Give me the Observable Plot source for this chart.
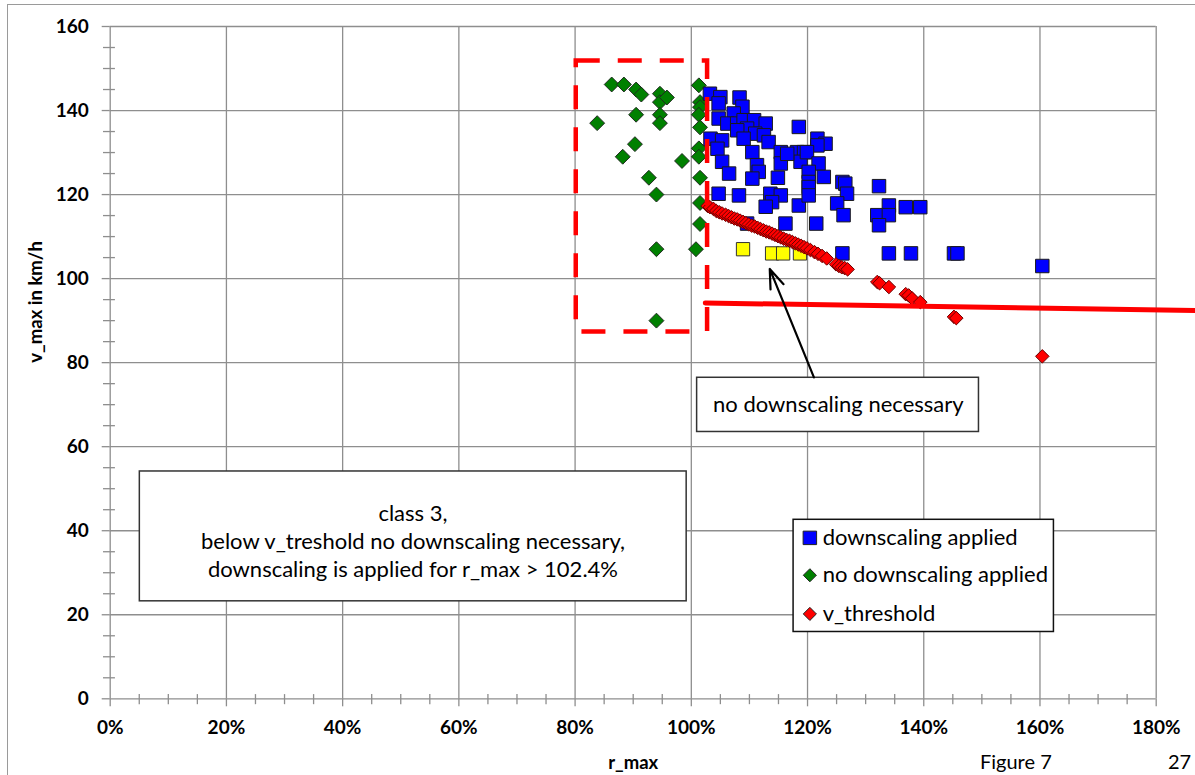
<!DOCTYPE html>
<html><head><meta charset="utf-8">
<script src="https://cdn.jsdelivr.net/npm/d3@7"></script>
<script src="https://cdn.jsdelivr.net/npm/@observablehq/plot@0.6"></script>
<style>
html,body{margin:0;padding:0;background:#fff;overflow:hidden;}
#wrap{position:relative;width:1195px;height:775px;font-family:Lato,"Open Sans",sans-serif;overflow:hidden;}
#border{position:absolute;left:7px;top:4px;width:1250px;height:850px;border-left:1.5px solid #9a9a9a;border-top:1.5px solid #9a9a9a;}
#chart{position:absolute;left:0;top:0;}
.foot{position:absolute;font-family:Lato,sans-serif;font-size:20px;color:#000;line-height:1;white-space:nowrap;}
</style></head>
<body>
<div id="wrap"><div id="border"></div><div id="chart"></div>
<div class="foot" style="left:980px;top:751px;">Figure 7</div>
<div class="foot" style="left:1168px;top:751px;">27</div>
</div>
<script>
// ---- data (r_max in %, v_max in km/h) ----
const downscalingApplied = [
 [103.2,144.0],[105.0,143.2],[104.7,141.7],[108.3,143.1],[108.8,140.9],[107.3,139.3],[104.7,138.1],
 [106.2,136.9],[107.9,136.9],[109.0,137.7],[110.8,137.7],[112.8,136.9],[109.6,135.7],[107.9,135.3],
 [111.0,134.5],[112.5,134.1],[118.5,136.1],[103.3,133.3],[105.3,132.9],[104.5,130.9],[109.0,133.3],
 [113.3,132.5],[110.5,130.1],[115.4,130.1],[118.2,130.1],[119.4,130.1],[105.3,127.8],[111.3,127.0],
 [115.4,127.4],[118.8,127.8],[106.5,125.0],[111.6,125.4],[110.5,123.8],[114.9,124.0],[104.7,120.2],
 [108.2,119.8],[113.6,120.2],[115.4,119.8],[113.9,118.2],[118.5,117.4],[112.8,117.1],[109.6,113.1],
 [121.7,133.3],[123.1,132.1],[121.7,131.7],[116.5,129.7],[119.9,130.1],[121.9,127.4],[120.2,125.4],
 [122.8,124.2],[120.2,123.0],[126.0,123.0],[126.5,122.6],[126.8,120.2],[125.1,117.9],[126.2,115.1],
 [120.2,121.8],[120.2,119.8],[116.2,113.1],[121.5,113.1],[132.3,122.0],[134.0,117.4],[132.0,115.1],
 [134.0,115.1],[132.3,112.7],[136.9,117.0],[139.4,117.0],[126.0,106.0],[134.0,106.0],[137.8,106.0],
 [145.2,106.0],[145.8,106.0],[160.4,103.0]
];
const noDownscalingApplied = [
 [86.3,146.2],[88.4,146.2],[90.5,145.0],[91.4,143.8],[94.6,144.0],[94.6,142.0],[95.8,143.1],
 [90.5,139.0],[94.6,139.0],[94.6,137.0],[83.8,137.0],[90.3,132.0],[88.2,129.0],[98.4,128.0],
 [92.7,124.0],[94.0,120.0],[94.0,107.0],[94.0,90.0],[101.3,146.0],[101.5,142.0],[101.5,140.8],
 [101.3,139.0],[101.5,136.0],[101.3,131.0],[101.3,129.0],[101.5,124.0],[101.5,118.0],[101.5,113.0],
 [100.8,107.0]
];
const noDownscalingNecessary = [[108.9,107.0],[113.9,106.0],[115.8,106.0],[118.7,106.0]];
const vThreshold = [
 [102.8,117.3],[103.2,117.0],[103.8,116.6],[104.3,116.1],[104.8,115.8],[105.3,115.5],[105.9,115.2],
 [106.4,114.9],[106.9,114.6],[107.4,114.3],[107.9,114.1],[108.4,113.8],[108.9,113.5],[109.4,113.2],
 [109.9,112.9],[110.4,112.6],[110.9,112.4],[111.4,112.1],[111.9,111.8],[112.4,111.5],[112.9,111.2],
 [113.4,111.0],[113.9,110.7],[114.4,110.4],[114.9,110.1],[115.4,109.8],[115.9,109.5],[116.4,109.2],
 [116.9,109.0],[117.4,108.7],[117.9,108.4],[118.4,108.1],[118.9,107.8],[119.4,107.5],[119.9,107.2],
 [120.5,106.8],[121.2,106.3],[121.8,105.9],[122.5,105.4],[123.3,104.8],[124.9,103.4],[125.4,103.0],
 [125.9,102.7],[126.4,102.5],[126.9,102.2],[132.0,99.2],[132.4,98.9],[134.0,98.0],[136.9,96.3],
 [137.4,96.0],[138.0,95.3],[139.4,94.4],[145.2,90.9],[145.6,90.6],[160.4,81.5]
];
const thresholdLine = [[102.4,94.2],[186.8,92.4]];
const xTicks = [0,20,40,60,80,100,120,140,160,180];
const yTicks = [0,20,40,60,80,100,120,140,160];
const xMinorTicks = [5,10,15,25,30,35,45,50,55,65,70,75,85,90,95,105,110,115,125,130,135,145,150,155,165,170,175];
const yMinorTicks = [5,10,15,25,30,35,45,50,55,65,70,75,85,90,95,105,110,115,125,130,135,145,150,155];
const legendLabels = ["downscaling applied","no downscaling applied","v_threshold"];
const legendColors = ["#0000ff","#008000","#ff0000"];
const legendSymbols = ["square","diamond2","diamond2"];

// ---- annotation geometry (data units) ----
const dashBox = {x1:80.2, x2:102.8, y1:87.3, y2:151.8};
const classBox = {x1:5.1, x2:99.2, y1:23.2, y2:54.1, tx:52.1, ty:37.8,
  text:"class 3,\nbelow v_treshold no downscaling necessary,\ndownscaling is applied for r_max > 102.4%"};
const noteBox = {x1:101.0, x2:149.5, y1:63.5, y2:76.4, tx:125.3, ty:69.9, text:"no downscaling necessary"};
const arrowSpec = {x1:121.1, y1:76.5, x2:113.5, y2:102.3};
const legendBox = {x1:117.6, x2:162.4, y1:15.9, y2:42.6};
const legendY = [38.3, 29.4, 20.2];
const legendItems = legendLabels.map((t,i)=>({label:t, color:legendColors[i], symbol:legendSymbols[i], y:legendY[i]}));

const gridColor = "#8e8e8e";
const fx = d=>d[0], fy = d=>d[1];

const chart = Plot.plot({
  width:1195, height:775,
  marginLeft:109.7, marginRight:39.3, marginTop:26, marginBottom:76.7,
  x:{domain:[0,180]}, y:{domain:[0,160]},
  style:{fontFamily:"Lato, 'Open Sans', sans-serif", background:"transparent", color:"#000"},
  marks:[
    Plot.ruleX(xTicks, {stroke:gridColor, strokeWidth:1.3}),
    Plot.ruleY(yTicks, {stroke:gridColor, strokeWidth:1.3}),
    Plot.ruleY(yMinorTicks, {x1:-1.15, x2:0.9, stroke:gridColor, strokeWidth:1.3}),
    Plot.ruleX(xMinorTicks, {y1:1.0, y2:-1.4, stroke:gridColor, strokeWidth:1.3}),
    Plot.axisY(yTicks, {tickSize:8, tickPadding:13.5, fontSize:19, fontWeight:"bold", stroke:gridColor, strokeWidth:1.3, fill:"#000", label:null}),
    Plot.axisX(xTicks, {tickSize:8, tickPadding:14, fontSize:19, fontWeight:"bold", stroke:gridColor, strokeWidth:1.3, fill:"#000", label:null, tickFormat:d=>d+"%"}),
    Plot.text(["v_max in km/h"], {frameAnchor:"left", dx:-74, rotate:-90, fontSize:18.5, fontWeight:"bold", fill:"#000"}),
    Plot.text(["r_max"], {frameAnchor:"bottom", lineAnchor:"middle", dy:64, fontSize:18.5, fontWeight:"bold", fill:"#000"}),

    Plot.dot(noDownscalingApplied, {x:fx, y:fy, symbol:"diamond2", r:6.7, fill:"#008000", stroke:"#1f2a1f", strokeWidth:1}),
    Plot.dot(noDownscalingNecessary, {x:fx, y:fy, symbol:"square", r:7.5, fill:"#ffff00", stroke:"#333", strokeWidth:1}),
    Plot.dot(downscalingApplied, {x:fx, y:fy, symbol:"square", r:7.6, fill:"#0000ff", stroke:"#1a1a1a", strokeWidth:1}),
    Plot.dot(vThreshold, {x:fx, y:fy, symbol:"diamond2", r:6.1, fill:"#ff0000", stroke:"#6b0000", strokeWidth:1}),

    Plot.rect([dashBox], {x1:"x1", x2:"x2", y1:"y1", y2:"y2", fill:"none", stroke:"#ff0000", strokeWidth:4.5, strokeDasharray:"24,18"}),
    Plot.line(thresholdLine, {x:fx, y:fy, stroke:"#ff0000", strokeWidth:5, clip:false}),

    Plot.rect([classBox], {x1:"x1", x2:"x2", y1:"y1", y2:"y2", fill:"#fff", stroke:"#333", strokeWidth:1.5}),
    Plot.text([classBox], {x:"tx", y:"ty", text:"text", fontSize:22, lineHeight:1.27, fill:"#000"}),
    Plot.rect([noteBox], {x1:"x1", x2:"x2", y1:"y1", y2:"y2", fill:"#fff", stroke:"#333", strokeWidth:1.5}),
    Plot.text([noteBox], {x:"tx", y:"ty", text:"text", fontSize:22, fill:"#000"}),
    Plot.arrow([arrowSpec], {x1:"x1", y1:"y1", x2:"x2", y2:"y2", stroke:"#000", strokeWidth:2.2, headLength:14, headAngle:40}),

    Plot.rect([legendBox], {x1:"x1", x2:"x2", y1:"y1", y2:"y2", fill:"#fff", stroke:"#111", strokeWidth:1.5}),
    Plot.dot(legendItems.filter(d=>d.symbol==="square"), {x:120.4, y:"y", symbol:"square", r:7.6, fill:"color", stroke:"#222", strokeWidth:1}),
    Plot.dot(legendItems.filter(d=>d.symbol!=="square"), {x:120.4, y:"y", symbol:"diamond2", r:5.9, fill:"color", stroke:"#222", strokeWidth:1}),
    Plot.text(legendItems, {x:122.6, y:"y", text:"label", textAnchor:"start", fontSize:22, fill:"#000"})
  ]
});
document.getElementById("chart").appendChild(chart);
</script>
</body></html>
